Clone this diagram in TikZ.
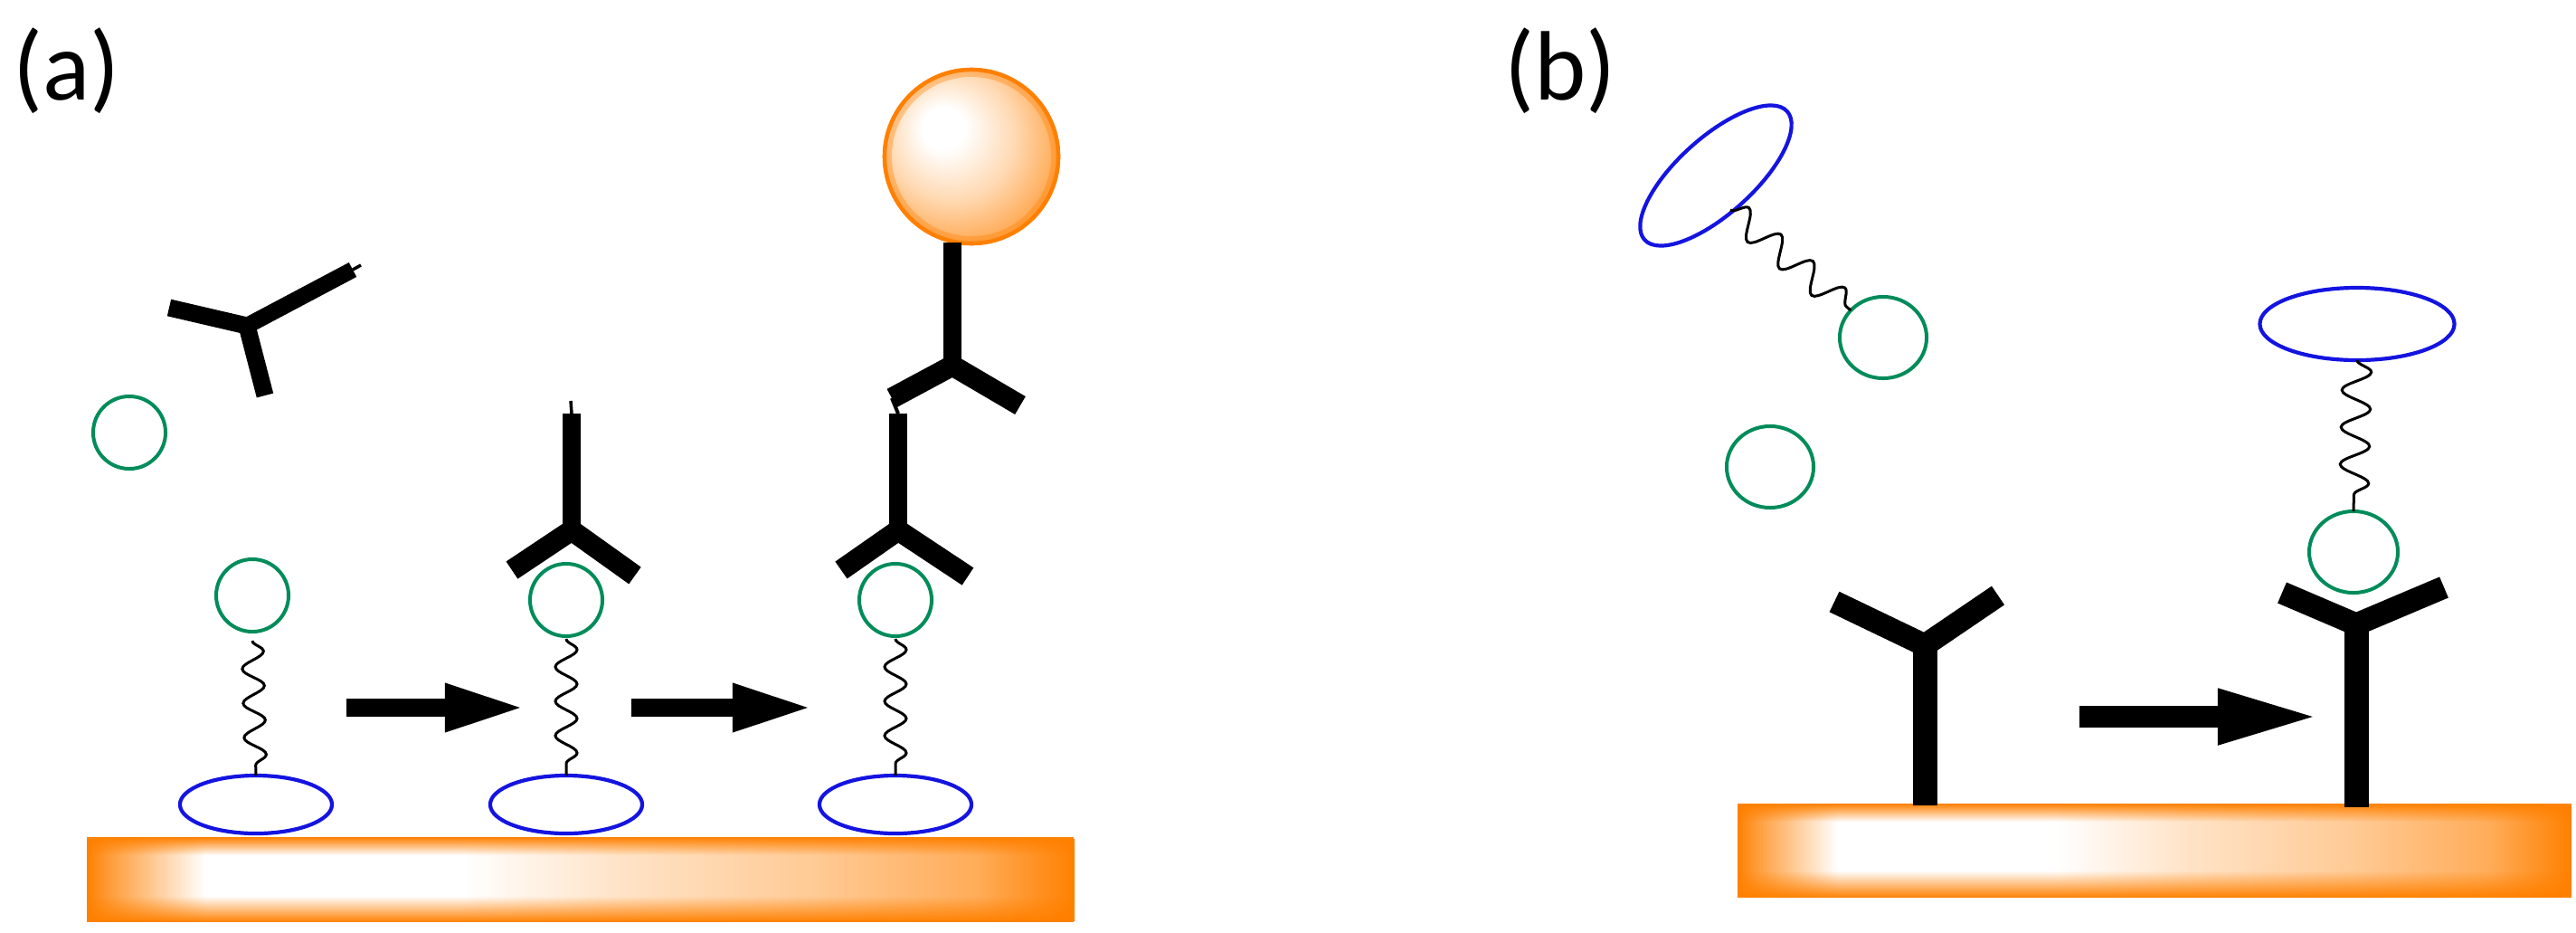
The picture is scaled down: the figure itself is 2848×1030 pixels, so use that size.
\documentclass[tikz,border=0pt]{standalone}
\usepackage{fontspec}
\setmainfont{Carlito}
\usetikzlibrary{arrows.meta,decorations.pathmorphing,shapes.geometric,fadings}
\definecolor{ringgreen}{RGB}{0,140,90}
\definecolor{ringblue}{RGB}{20,20,225}
\definecolor{barorange}{RGB}{255,128,0}
\pgfdeclarehorizontalshading{barshade}{100bp}{color(0bp)=(barorange); color(25bp)=(barorange); color(26bp)=(barorange!80); color(31bp)=(white); color(44bp)=(white); color(52bp)=(barorange!22); color(62bp)=(barorange!42); color(70bp)=(barorange!65); color(75bp)=(barorange); color(100bp)=(barorange)}
\pgfdeclareradialshading{ballshade}{\pgfpoint{-9bp}{9bp}}{color(0bp)=(white); color(6bp)=(white); color(18bp)=(barorange!30); color(28bp)=(barorange!65); color(37bp)=(barorange!90); color(50bp)=(barorange)}
\begin{document}
\begin{tikzpicture}[x=0.01cm,y=-0.01cm,
  greenring/.style={draw=ringgreen, line width=0.04cm, ellipse, inner sep=0pt, outer sep=0pt},
  bluering/.style={draw=ringblue, line width=0.042cm, ellipse, inner sep=0pt, outer sep=0pt},
  linker/.style={decorate, decoration={snake, segment length=0.38cm, amplitude=0.12cm}, line width=0.03cm},
  abstem/.style={line width=0.2cm, line cap=butt},
  abarm/.style={line width=0.23cm, line cap=butt, line join=miter},
  abtip/.style={line width=0.035cm},
  abBstem/.style={line width=0.27cm, line cap=butt},
  abBarm/.style={line width=0.25cm, line cap=butt, line join=miter},
  stagearrow/.style={line width=0.2cm, -{Triangle[length=0.9cm,width=0.48cm]}},
  stagearrowB/.style={line width=0.24cm, -{Triangle[length=1.15cm,width=0.55cm]}},
  panellabel/.style={anchor=base west, inner sep=0pt, font=\fontsize{31}{37}\selectfont}]
\useasboundingbox (0,0) rectangle (2848,1030);

% ---------- substrate bars ----------
\shade[shading=barshade] (96,927) rectangle (1188,1017);
\fill[barorange, path fading=south] (96,925) rectangle (1188,945);
\fill[barorange, path fading=north] (96,990) rectangle (1188,1019);
\shade[shading=barshade] (1921,890) rectangle (2843,990);
\fill[barorange, path fading=south] (1921,888) rectangle (2843,908);
\fill[barorange, path fading=north] (1921,962) rectangle (2843,992);

% ---------- panel (a) ----------
\node[panellabel] (la) at (14,110) {(a)};

\node[bluering, minimum width=1.68cm, minimum height=0.64cm] (e1) at (283,889) {};
\node[bluering, minimum width=1.68cm, minimum height=0.64cm] (e2) at (626,889) {};
\node[bluering, minimum width=1.68cm, minimum height=0.64cm] (e3) at (990,889) {};

\node[greenring, minimum size=0.8cm] (c0) at (143,478) {};
\node[greenring, minimum size=0.8cm] (c1) at (279,658) {};
\node[greenring, minimum size=0.8cm] (c2) at (626,663) {};
\node[greenring, minimum size=0.8cm] (c3) at (990,663) {};

\draw[linker] ([yshift=-0.1cm]c1.south) -- (e1.north);
\draw[linker] ([yshift=-0.03cm]c2.south) -- (e2.north);
\draw[linker] ([yshift=-0.03cm]c3.south) -- (e3.north);

% free antibody
\coordinate (f0j) at (273,360);
\coordinate (f0l) at (187,340);
\coordinate (f0d) at (293,437);
\coordinate (f0s) at (390,298);
\coordinate (f0t) at (399,293);
\draw[abarm, line width=0.19cm] (f0l) -- (f0j) -- (f0d);
\draw[abstem, line width=0.18cm] (f0j) -- (f0s);
\draw[abtip] (f0s) -- (f0t);

% antibody on stage 2
\coordinate (a2top) at (632,457);
\coordinate (a2tip) at (631,443);
\coordinate (a2j) at (632,586);
\coordinate (a2l) at (566,630);
\coordinate (a2r) at (702,636);
\draw[abstem] (a2top) -- (a2j);
\draw[abtip] (a2tip) -- (a2top);
\draw[abarm] (a2l) -- (a2j) -- (a2r);

% antibody on stage 3 (lower)
\coordinate (a3top) at (993,457);
\coordinate (a3j) at (993,586);
\coordinate (a3l) at (930,630);
\coordinate (a3r) at (1070,637);
\draw[abstem] (a3top) -- (a3j);
\draw[abarm] (a3l) -- (a3j) -- (a3r);

% labelled antibody with ball (upper)
\node[circle, minimum size=1.96cm, inner sep=0pt, shade, shading=ballshade] (ball) at (1074,173) {};
\draw[barorange, line width=0.1cm, opacity=0.35] (ball.center) circle [radius=0.93cm];
\draw[barorange, line width=0.045cm] (ball.center) circle [radius=0.96cm];
\coordinate (a4top) at (1053,268);
\coordinate (a4j) at (1053,404);
\coordinate (a4l) at (986,440);
\coordinate (a4r) at (1128,448);
\draw[abstem] (a4top) -- (a4j);
\draw[abarm] (a4l) -- (a4j) -- (a4r);
\draw[line width=0.04cm] (a4l) -- (a3top);

% arrows (a)
\coordinate (ar1s) at (383,782);
\coordinate (ar1e) at (582,782);
\coordinate (ar2s) at (698,782);
\coordinate (ar2e) at (900,782);
\draw[stagearrow] (ar1s) -- (ar1e);
\draw[stagearrow] (ar2s) -- (ar2e);

% ---------- panel (b) ----------
\node[panellabel] (lb) at (1663,110) {(b)};

\node[bluering, minimum width=2.12cm, minimum height=0.84cm, rotate=42] (be1) at (1897,194) {};
\node[greenring, minimum width=0.96cm, minimum height=0.9cm] (cb1) at (2082,373) {};
\node[greenring, minimum width=0.96cm, minimum height=0.9cm] (cb2) at (1957,516) {};
\coordinate (bw1) at (1913,232);
\draw[linker, decoration={snake, segment length=0.46cm, amplitude=0.15cm}] (bw1) -- (cb1.140);

\node[bluering, minimum width=2.15cm, minimum height=0.8cm] (be2) at (2606,358) {};
\node[greenring, minimum width=0.98cm, minimum height=0.9cm] (cb3) at (2602,610) {};
\draw[linker, decoration={snake, segment length=0.41cm, amplitude=0.16cm}] (be2.south) -- (cb3.north);

% antibodies on surface (b)
\coordinate (b1bot) at (2128,890);
\coordinate (b1j) at (2128,713);
\coordinate (b1l) at (2028,665);
\coordinate (b1r) at (2209,658);
\draw[abBstem] (b1bot) -- (b1j);
\draw[abBarm] (b1l) -- (b1j) -- (b1r);

\coordinate (b2bot) at (2605,892);
\coordinate (b2j) at (2605,690);
\coordinate (b2l) at (2523,655);
\coordinate (b2r) at (2702,649);
\draw[abBstem] (b2bot) -- (b2j);
\draw[abBarm] (b2l) -- (b2j) -- (b2r);

% arrow (b)
\coordinate (br1s) at (2299,792);
\coordinate (br1e) at (2567,792);
\draw[stagearrowB] (br1s) -- (br1e);
\end{tikzpicture}
\end{document}
